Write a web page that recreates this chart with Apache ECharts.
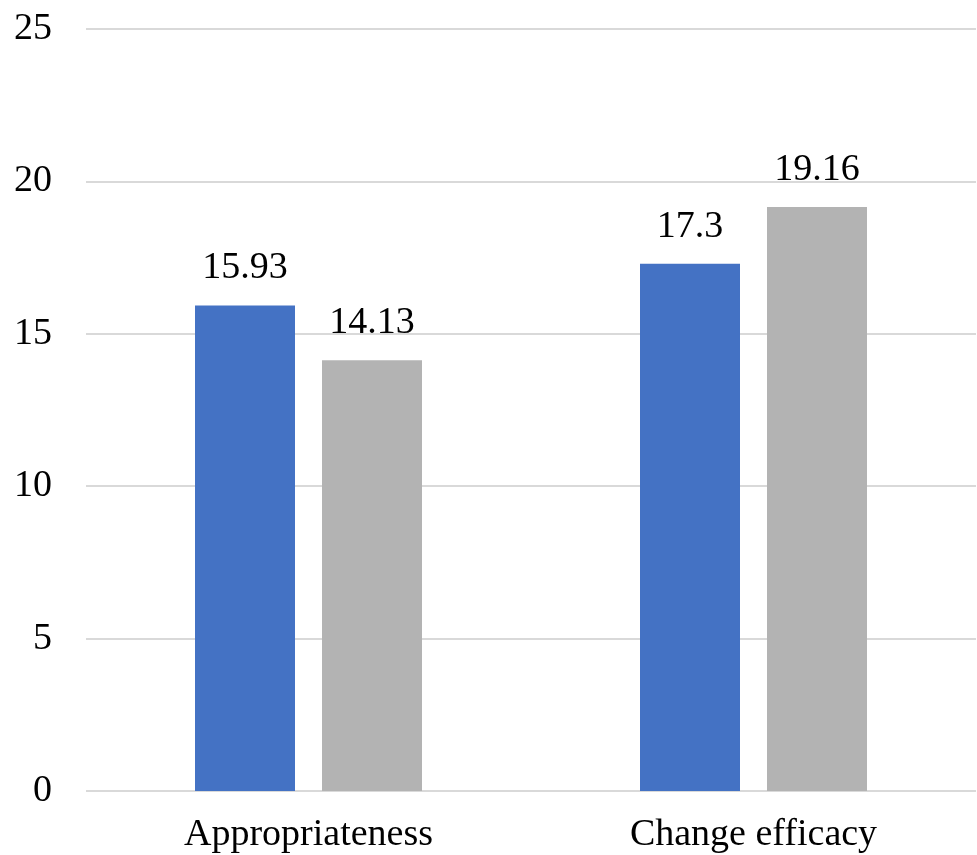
<!DOCTYPE html>
<html>
<head>
<meta charset="utf-8">
<script src="https://cdn.jsdelivr.net/npm/echarts@6/dist/echarts.min.js"></script>
<style>
  html, body { margin: 0; padding: 0; background: #ffffff; }
  #chart { width: 977px; height: 855px; }
</style>
</head>
<body>
<div id="chart"></div>
<script>
// Categories and the two series of scores
const categories = ['Appropriateness', 'Change efficacy'];
const seriesA = [15.93, 17.3];
const seriesB = [14.13, 19.16];

const serif = 'Liberation Serif';

const chart = echarts.init(document.getElementById('chart'));
chart.setOption({
  animation: false,
  grid: { left: 86, right: 1, top: 29, bottom: 64, containLabel: false },
  xAxis: {
    type: 'category',
    data: categories,
    axisLine: { show: false },
    axisTick: { show: false },
    axisLabel: { color: '#000', fontFamily: serif, fontSize: 38, margin: 25 }
  },
  yAxis: {
    type: 'value',
    min: 0, max: 25, interval: 5,
    axisLine: { show: false },
    axisTick: { show: false },
    splitLine: { lineStyle: { color: '#d9d9d9', width: 2 } },
    axisLabel: { color: '#000', fontFamily: serif, fontSize: 38, margin: 34 }
  },
  series: [
    {
      type: 'bar', data: seriesA, barWidth: 100, barGap: '27%',
      itemStyle: { color: '#4472c4' },
      label: { show: true, position: 'top', distance: 18, color: '#000', fontFamily: serif, fontSize: 38 }
    },
    {
      type: 'bar', data: seriesB, barWidth: 100,
      itemStyle: { color: '#b3b3b3' },
      label: { show: true, position: 'top', distance: 18, color: '#000', fontFamily: serif, fontSize: 38 }
    }
  ]
});
</script>
</body>
</html>
